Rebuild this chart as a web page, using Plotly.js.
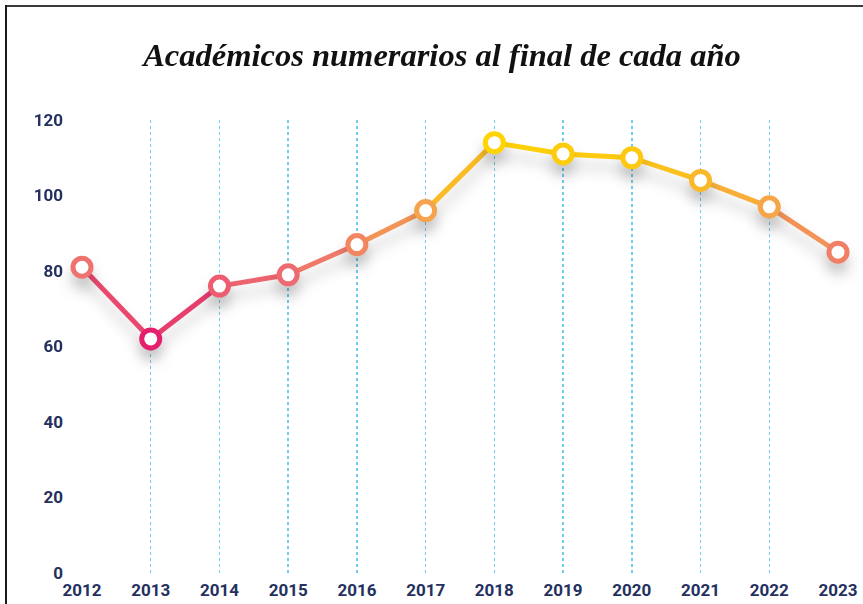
<!DOCTYPE html>
<html>
<head>
<meta charset="utf-8">
<script src="https://cdn.plot.ly/plotly-3.0.1.min.js"></script>
<style>
  html, body { margin: 0; padding: 0; background: #fff; }
  #wrap { position: relative; width: 863px; height: 604px; overflow: hidden; }
  #chart { position: absolute; left: 0; top: 0; width: 863px; height: 604px; }
  .bt { position: absolute; left: 5px; top: 5px; width: 858px; height: 2px; background: #3a3a3a; z-index: 5; }
  .bl { position: absolute; left: 5px; top: 5px; width: 2px; height: 599px; background: #1a1a1a; z-index: 5; }
  #chart .scatterlayer .trace { filter: drop-shadow(0px 11px 7px rgba(0,0,0,0.2)); }
</style>
</head>
<body>
<div id="wrap">
  <div id="chart"></div>
  <div class="bt"></div>
  <div class="bl"></div>
</div>
<script>
const years = [2012, 2013, 2014, 2015, 2016, 2017, 2018, 2019, 2020, 2021, 2022, 2023];
const academicos = [81, 62, 76, 79, 87, 96, 114, 111, 110, 104, 97, 85];
const yTicks = [0, 20, 40, 60, 80, 100, 120];
const titleText = 'Académicos numerarios al final de cada año';

const scale = [
  [0.0, '#e41f6c'],
  [0.35, '#ee7070'],
  [0.65, '#f5a24e'],
  [1.0, '#ffd400']
];
const vmin = Math.min(...academicos), vmax = Math.max(...academicos);

function hexToRgb(h) { return [parseInt(h.substr(1,2),16), parseInt(h.substr(3,2),16), parseInt(h.substr(5,2),16)]; }
function colorAt(v) {
  let t = (v - vmin) / (vmax - vmin);
  t = Math.max(0, Math.min(1, t));
  for (let i = 0; i < scale.length - 1; i++) {
    const [t0, c0] = scale[i], [t1, c1] = scale[i+1];
    if (t >= t0 && t <= t1) {
      const f = (t - t0) / (t1 - t0);
      const a = hexToRgb(c0), b = hexToRgb(c1);
      const c = a.map((x, k) => Math.round(x + (b[k] - x) * f));
      return 'rgb(' + c.join(',') + ')';
    }
  }
  return scale[scale.length-1][1];
}

const traces = [];
for (let i = 0; i < years.length - 1; i++) {
  traces.push({
    x: [years[i], years[i+1]],
    y: [academicos[i], academicos[i+1]],
    type: 'scatter', mode: 'lines',
    line: { color: colorAt((academicos[i] + academicos[i+1]) / 2), width: 5 },
    hoverinfo: 'skip', showlegend: false, cliponaxis: false
  });
}
traces.push({
  x: years, y: academicos,
  type: 'scatter', mode: 'markers',
  marker: {
    size: 18, color: '#ffffff',
    line: { width: 5, color: academicos, colorscale: scale, cmin: vmin, cmax: vmax }
  },
  showlegend: false, cliponaxis: false
});

const tickFont = { family: 'Roboto, "DejaVu Sans Condensed", sans-serif', size: 17, color: '#24305e', weight: 'bold' };

const layout = {
  width: 863, height: 604,
  margin: { l: 82, r: 25, t: 120, b: 31 },
  paper_bgcolor: '#ffffff', plot_bgcolor: '#ffffff',
  title: {
    text: titleText,
    font: { family: '"Liberation Serif", "DejaVu Serif", serif', size: 32.5, color: '#111111', style: 'italic', weight: 'bold' },
    x: 442 / 863, xanchor: 'center', xref: 'container',
    y: 1 - 55/604, yanchor: 'middle', yref: 'container'
  },
  xaxis: {
    range: [2012, 2023], tickvals: years, ticktext: years.map(String),
    showgrid: true, gridcolor: '#6fcdec', griddash: 'dot', gridwidth: 1.5,
    zeroline: false, showline: false, ticks: '',
    tickfont: tickFont, ticklabelstandoff: 5, fixedrange: true
  },
  yaxis: {
    range: [0, 120], tickvals: yTicks, ticktext: yTicks.map(String),
    showgrid: false, zeroline: false, showline: false, ticks: '',
    tickfont: tickFont, ticklabelstandoff: 18, fixedrange: true
  },
  showlegend: false
};

Plotly.newPlot('chart', traces, layout, { displayModeBar: false, staticPlot: true });
</script>
</body>
</html>
